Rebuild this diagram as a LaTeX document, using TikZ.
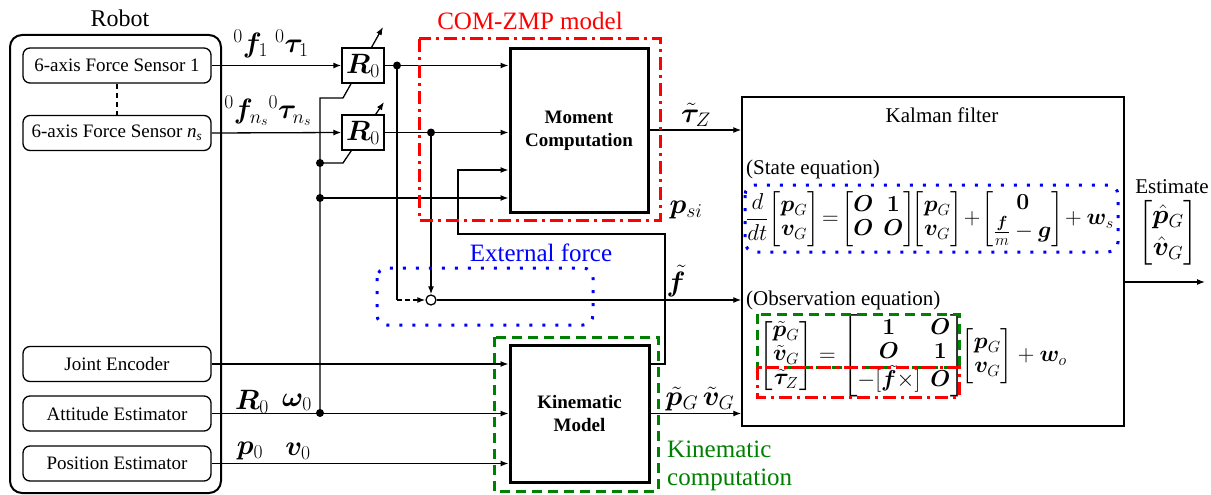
\RequirePackage{fix-cm}
\documentclass[tikz,border=0pt]{standalone}
\usepackage{amsmath,amssymb}
\usepackage{bm}
\usepackage[no-math]{fontspec}
\setmainfont{Liberation Serif}
\usetikzlibrary{arrows.meta}
\definecolor{cred}{RGB}{255,0,0}
\definecolor{cblue}{RGB}{0,0,255}
\definecolor{cgreen}{RGB}{0,128,0}
\begin{document}
\begin{tikzpicture}[x=1pt,y=-1pt,
  ln/.style={line width=1.3pt},
  arr/.style={line width=1.3pt,-{Latex[length=8pt,width=6pt]}},
  sbox/.style={draw,line width=1.3pt,rounded corners=7pt,minimum width=188pt,minimum height=35pt,inner sep=0pt,fill=white,font=\fontsize{19}{22}\selectfont},
  rbox/.style={draw,line width=1.3pt,minimum width=42pt,minimum height=35pt,inner sep=0pt,fill=white,font=\fontsize{28}{32}\selectfont},
  bigbox/.style={draw,line width=3pt,inner sep=0pt,fill=white,align=center,font=\fontsize{19}{23}\selectfont\bfseries},
  jdot/.style={circle,fill=black,inner sep=0pt,minimum size=8pt},
  mlbl/.style={font=\fontsize{28}{32}\selectfont,inner sep=0pt},
  tlbl/.style={font=\fontsize{21}{25}\selectfont,inner sep=0pt},
  glbl/.style={font=\fontsize{25}{30}\selectfont,inner sep=0pt},
  eq/.style={font=\fontsize{23}{24}\selectfont,inner sep=0pt},
  reddash/.style={cred,line width=3pt,dash pattern=on 13pt off 5pt on 3pt off 5pt},
  greendash/.style={cgreen,line width=3pt,dash pattern=on 10pt off 6pt},
  bluedot/.style={cblue,line width=3pt,dash pattern=on 3pt off 10pt,rounded corners=10pt}
]
\useasboundingbox (0,0) rectangle (1211,495);

% Robot
\node[draw,line width=2pt,rounded corners=12pt,minimum width=211pt,minimum height=458pt,inner sep=0pt] (robot) at (115.5,264) {};
\node[font=\fontsize{24}{28}\selectfont,inner sep=0pt] (robotlbl) at (120,18) {Robot};
\node[sbox] (fs1) at (117,65.5) {6-axis Force Sensor 1};
\node[sbox] (fs2) at (117,133) {6-axis Force Sensor \textit{n\textsubscript{s}}};
\node[sbox] (je) at (117,364) {Joint Encoder};
\node[sbox] (ae) at (117,413.5) {Attitude Estimator};
\node[sbox] (pe) at (117,463.5) {Position Estimator};
\draw[ln,dashed,dash pattern=on 5pt off 4pt] (fs1.south) -- (fs2.north);

% R0 tilt arrows (drawn under boxes)
\coordinate (jA) at (320,413);
\coordinate (jB) at (320,163);
\coordinate (jC) at (320,198);
\draw[arr] (jA) -- (320,98) -- (343,98) -- (383,27);
\draw[arr] (jB) -- (343,163) -- (384,102);

\node[rbox] (Ra) at (363,65.5) {$\bm{R}_0$};
\node[rbox] (Rb) at (363,132.5) {$\bm{R}_0$};

% main blocks
\node[bigbox,minimum width=138pt,minimum height=163pt] (mc) at (579,130.5) {Moment\\Computation};
\node[bigbox,minimum width=139pt,minimum height=137pt] (km) at (579.5,413.5) {Kinematic\\Model};
\node[draw,line width=1.5pt,minimum width=382pt,minimum height=329pt,inner sep=0pt] (kf) at (933,261.5) {};

% sensor to R0
\draw[arr] (fs1.east) -- (Ra.west);
\draw[arr] (fs2.east) -- (Rb.west);
\node[mlbl] (lf1) at (271,44) {$^{0}\bm{f}_1\ {}^{0}\bm{\tau}_1$};
\node[mlbl] (lfn) at (268,111) {$^{0}\bm{f}_{n_s}{}^{0}\bm{\tau}_{n_s}$};

% R0 outputs
\node[jdot] (dA) at (397,65.5) {};
\node[jdot] (dB) at (431,132.5) {};
\draw[arr] (Ra.east) -- (mc.west |- Ra.east);
\draw[arr] (Rb.east) -- (mc.west |- Rb.east);

% junction dots on vertical
\node[jdot] at (jA) {};
\node[jdot] at (jB) {};
\node[jdot] at (jC) {};
\draw[arr] (jC) -- (mc.west |- jC);

% external force summing node
\node[circle,draw,line width=1.3pt,minimum size=10pt,inner sep=0pt,fill=white] (sum) at (431,300) {};
\draw[ln] (dA.center) -- (397,300);
\draw[ln,dashed,dash pattern=on 5pt off 3pt,-{Latex[length=8pt,width=6pt]}] (397,300) -- (sum.west);
\draw[arr] (dB.center) -- (sum.north);
\draw[arr] (sum.east) -- (kf.west |- sum.east);
\node[mlbl] (lf) at (676,281) {$\tilde{\bm{f}}$};

% p_si feedback from kinematic model
\draw[arr] (km.east |- 0,364) -- (665,364) -- (665,234) -- (458,234) -- (458,170) -- (mc.west |- 0,170);
\node[mlbl] (lpsi) at (686,210) {$\bm{p}_{si}$};

% sensors to kinematic model
\draw[arr] (je.east) -- (km.west |- je.east);
\draw[arr] (ae.east) -- (km.west |- ae.east);
\draw[arr] (pe.east) -- (km.west |- pe.east);
\node[mlbl] (lR) at (252,402) {$\bm{R}_0$};
\node[mlbl] (lw) at (297,402) {$\bm{\omega}_0$};
\node[mlbl] (lp) at (250,451) {$\bm{p}_0$};
\node[mlbl] (lv) at (298,451) {$\bm{v}_0$};

% outputs to Kalman filter
\draw[arr] (mc.east |- 0,130) -- (kf.west |- 0,130);
\node[mlbl] (ltau) at (696,115) {$\tilde{\bm{\tau}}_Z$};
\draw[arr] (km.east) -- (kf.west |- km.east);
\node[mlbl] (lpv) at (700,399) {$\tilde{\bm{p}}_G\,\tilde{\bm{v}}_G$};

% Kalman contents
\node[tlbl] (kft) at (942,115) {Kalman filter};
\node[tlbl,anchor=west] (se) at (746,169) {(State equation)};
\node[eq] (seq) at (930,219) {$\dfrac{d}{dt}\!\begin{bmatrix}\bm{p}_G\\ \bm{v}_G\end{bmatrix}\!=\!\begin{bmatrix}\bm{O}&\bm{1}\\ \bm{O}&\bm{O}\end{bmatrix}\!\!\begin{bmatrix}\bm{p}_G\\ \bm{v}_G\end{bmatrix}\!+\!\begin{bmatrix}\bm{0}\\ \frac{\bm{f}}{m}-\bm{g}\end{bmatrix}\!+\bm{w}_s$};
\node[tlbl,anchor=west] (oe) at (746,300) {(Observation equation)};
\node[eq,anchor=west] (oeq) at (759,356) {$\begin{bmatrix}\tilde{\bm{p}}_G\\ \tilde{\bm{v}}_G\\ \tilde{\bm{\tau}}_Z\end{bmatrix}=\begin{bmatrix}\bm{1}&\bm{O}\\ \bm{O}&\bm{1}\\ -[\tilde{\bm{f}}\times]&\bm{O}\end{bmatrix}\!\!\begin{bmatrix}\bm{p}_G\\ \bm{v}_G\end{bmatrix}+\bm{w}_o$};

% estimate output
\draw[arr] (kf.east |- 0,282) -- (1205,282);
\node[tlbl] (est) at (1172,187) {Estimate};
\node[eq,font=\fontsize{27}{32}\selectfont] (estv) at (1168,233) {$\begin{bmatrix}\hat{\bm{p}}_G\\ \hat{\bm{v}}_G\end{bmatrix}$};

% grouping outlines
\draw[reddash] (419,39) rectangle (660,220);
\node[glbl,text=cred] (comlbl) at (530,21) {COM-ZMP model};
\draw[greendash] (494,337) rectangle (658,491);
\node[glbl,text=cgreen,align=left,anchor=west] (kclbl) at (667,466) {Kinematic\\[-2pt]computation};
\draw[bluedot] (377,268) rectangle (593,325);
\node[glbl,text=cblue] (eflbl) at (541,253) {External force};
\draw[bluedot] (745,185) rectangle (1118,252);
\draw[greendash] (757,314) rectangle (959,367);
\draw[reddash] (757,367) rectangle (959,397);
\end{tikzpicture}
\end{document}
